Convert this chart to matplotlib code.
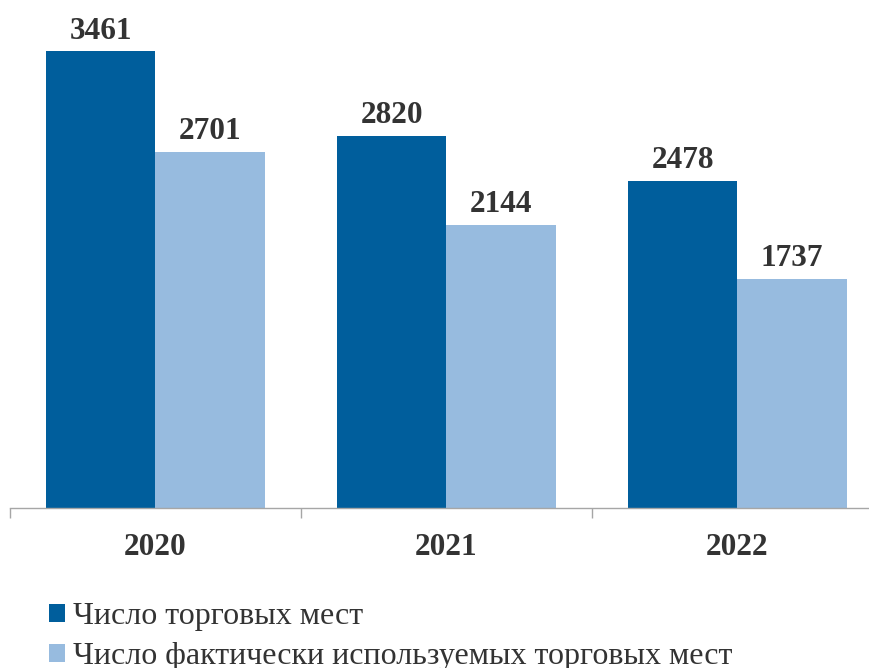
import matplotlib
matplotlib.use("Agg")
import matplotlib.pyplot as plt
from matplotlib.patches import Patch
import numpy as np

years = ["2020", "2021", "2022"]
total_places = [3461, 2820, 2478]
used_places = [2701, 2144, 1737]
series_names = ["Число торговых мест", "Число фактически используемых торговых мест"]

dark = "#005E9C"
light = "#97BBDF"
serif = ["Liberation Serif", "DejaVu Serif"]

W, H = 870, 668
fig = plt.figure(figsize=(W / 100, H / 100), dpi=100)
left, right, top, base = 10, 883, 0, 508
ax = fig.add_axes([left / W, (H - base) / H, (right - left) / W, (base - top) / H])

x = np.arange(len(years))
bw = 0.375
ax.bar(x + 0.5 - bw / 2, total_places, width=bw, color=dark, align="center")
ax.bar(x + 0.5 + bw / 2, used_places, width=bw, color=light, align="center")

for xi, v in zip(x, total_places):
    ax.text(xi + 0.5 - bw / 2, v + 45, str(v), ha="center", va="bottom",
            fontsize=22.5, fontweight="bold", family=serif, color="#333333")
for xi, v in zip(x, used_places):
    ax.text(xi + 0.5 + bw / 2, v + 45, str(v), ha="center", va="bottom",
            fontsize=22.5, fontweight="bold", family=serif, color="#333333")

ax.set_xlim(0, 3)
ax.set_ylim(0, 508 / 0.1319)
for s in ["left", "right", "top"]:
    ax.spines[s].set_visible(False)
ax.spines["bottom"].set_color("#A6A6A6")
ax.spines["bottom"].set_linewidth(1.0)
ax.set_yticks([])
ax.set_xticks([0, 1, 2, 3])
ax.set_xticklabels([])
ax.set_xticks(x + 0.5, minor=True)
ax.set_xticklabels(years, minor=True, fontsize=22.5, fontweight="bold",
                   family=serif, color="#333333")
ax.tick_params(axis="x", which="major", length=7, color="#A6A6A6", width=1.0)
ax.tick_params(axis="x", which="minor", length=0, pad=18)

handles = [Patch(facecolor=dark, edgecolor="none"), Patch(facecolor=light, edgecolor="none")]
fig.legend(handles, series_names, loc="upper left", bbox_to_anchor=(49 / W, 1 - 602 / H),
           frameon=False, prop={"family": serif, "size": 23},
           handlelength=0.5, handleheight=0.5, handletextpad=0.25,
           labelspacing=0.35, borderpad=0, borderaxespad=0, labelcolor="#333333")

fig.savefig("out.png", dpi=100)
